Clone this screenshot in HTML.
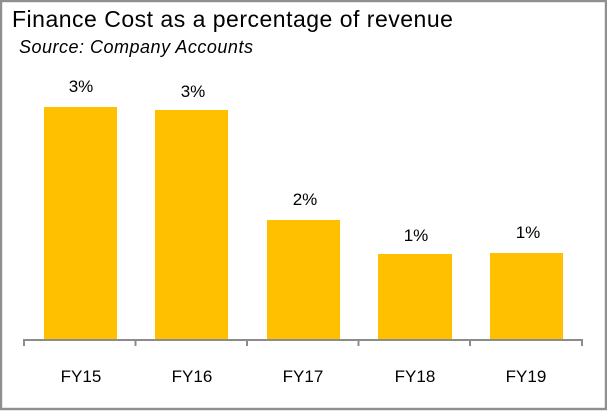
<!DOCTYPE html>
<html>
<head>
<meta charset="utf-8">
<style>
html,body{margin:0;padding:0;background:#fff;}
body{width:607px;height:411px;overflow:hidden;}
svg{display:block;}
</style>
</head>
<body>
<svg width="607" height="411" viewBox="0 0 607 411" xmlns="http://www.w3.org/2000/svg">
  <rect x="0" y="0" width="607" height="411" fill="#ffffff"/>
  <rect x="1" y="1" width="605" height="408" fill="none" stroke="#8f8f8f" stroke-width="2.4"/>
  <text x="12" y="27" font-family="'Liberation Sans', sans-serif" font-size="23" letter-spacing="0.5" fill="#000">Finance Cost as a percentage of revenue</text>
  <text x="19" y="53" font-family="'Liberation Sans', sans-serif" font-size="18" font-style="italic" letter-spacing="0.5" fill="#000">Source: Company Accounts</text>

  <g fill="#FFC000">
    <rect x="44" y="107" width="73" height="232"/>
    <rect x="155" y="110" width="73" height="229"/>
    <rect x="267" y="220" width="73" height="119"/>
    <rect x="378" y="254" width="74" height="85"/>
    <rect x="490" y="253" width="73" height="86"/>
  </g>

  <g stroke="#8c8c8c" stroke-width="2" fill="none">
    <line x1="23" y1="340" x2="583" y2="340"/>
    <line x1="24" y1="339" x2="24" y2="346"/>
    <line x1="135.5" y1="339" x2="135.5" y2="346"/>
    <line x1="247" y1="339" x2="247" y2="346"/>
    <line x1="358.5" y1="339" x2="358.5" y2="346"/>
    <line x1="470" y1="339" x2="470" y2="346"/>
    <line x1="582" y1="339" x2="582" y2="346"/>
  </g>

  <g font-family="'Liberation Sans', sans-serif" font-size="17" fill="#000" text-anchor="middle">
    <text x="81" y="92">3%</text>
    <text x="193" y="97">3%</text>
    <text x="305" y="205">2%</text>
    <text x="416" y="241">1%</text>
    <text x="528" y="238">1%</text>

    <text x="81" y="382">FY15</text>
    <text x="192" y="382">FY16</text>
    <text x="303" y="382">FY17</text>
    <text x="415" y="382">FY18</text>
    <text x="526" y="382">FY19</text>
  </g>
</svg>
</body>
</html>
